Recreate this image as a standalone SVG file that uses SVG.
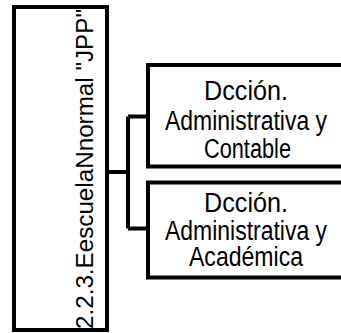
<svg xmlns="http://www.w3.org/2000/svg" width="341" height="333" viewBox="0 0 341 333">
<style>
.box{fill:#fff;stroke:#000;stroke-width:4}
.t{font-family:"Liberation Sans",Arial,sans-serif;font-size:23px;fill:#000}
.r{font-family:"Liberation Sans",Arial,sans-serif;font-size:27px;fill:#000;text-anchor:middle}
.c{fill:none;stroke:#000;stroke-width:4}
</style>
<rect width="341" height="333" fill="#fff"/>
<g id="connectors">
<path class="c" d="M107 172 H128 M128 116.5 V228.5 M128 116.5 H148 M128 228.5 H148"/>
</g>
<g id="n0">
<rect class="box" x="14" y="7" width="93" height="323"/>
<text class="t" transform="translate(93,329) rotate(-90)" textLength="320" lengthAdjust="spacingAndGlyphs">2.2.3.EescuelaNnormal "JPP"</text>
</g>
<g id="n1">
<rect class="box" x="148" y="65" width="196" height="101.5"/>
<text class="r" x="246" y="100" textLength="84" lengthAdjust="spacingAndGlyphs">Dcción.</text>
<text class="r" x="246" y="129.5" textLength="162" lengthAdjust="spacingAndGlyphs">Administrativa y</text>
<text class="r" x="247.5" y="157.5" textLength="87" lengthAdjust="spacingAndGlyphs">Contable</text>
</g>
<g id="n2">
<rect class="box" x="148" y="182.5" width="196" height="95"/>
<text class="r" x="246" y="212" textLength="84" lengthAdjust="spacingAndGlyphs">Dcción.</text>
<text class="r" x="246" y="240" textLength="162" lengthAdjust="spacingAndGlyphs">Administrativa y</text>
<text class="r" x="246" y="266" textLength="114" lengthAdjust="spacingAndGlyphs">Académica</text>
</g>
</svg>
